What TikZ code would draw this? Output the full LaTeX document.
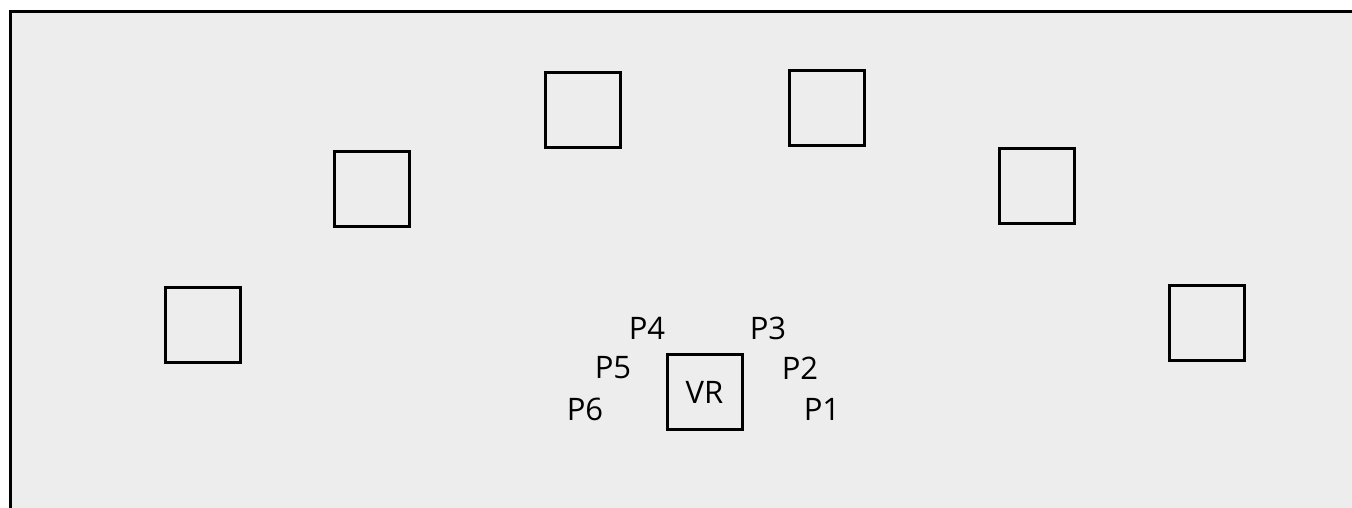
\documentclass[tikz,border=0pt]{standalone}
\usepackage{fontspec}
\setmainfont{Open Sans}
\definecolor{bg}{HTML}{EDEDED}
\begin{document}
\begin{tikzpicture}[x=1pt,y=-1pt,
  box/.style={draw=black,line width=3pt,minimum size=75pt,inner sep=0pt,outer sep=0pt},
  lbl/.style={font=\fontsize{31}{33}\selectfont,inner sep=0pt}]
\useasboundingbox (0,0) rectangle (1352,507);
\fill[white] (0,0) rectangle (1352,507);
\draw[line width=3pt,fill=bg] (10,11.5) rectangle (1370,530);
\node[box] (s1) at (202.5,324.5) {};
\node[box] (s2) at (372,188.5) {};
\node[box] (s3) at (583,109.5) {};
\node[box] (s4) at (827,107.5) {};
\node[box] (s5) at (1037,185.5) {};
\node[box] (s6) at (1207,322.5) {};
\node[box,lbl] (vr) at (704.5,392) {VR};
\node[lbl] (p4) at (647,328) {P4};
\node[lbl] (p3) at (768,328) {P3};
\node[lbl] (p5) at (613,368) {P5};
\node[lbl] (p2) at (800,368) {P2};
\node[lbl] (p6) at (585,409) {P6};
\node[lbl] (p1) at (822,409) {P1};
\end{tikzpicture}
\end{document}
